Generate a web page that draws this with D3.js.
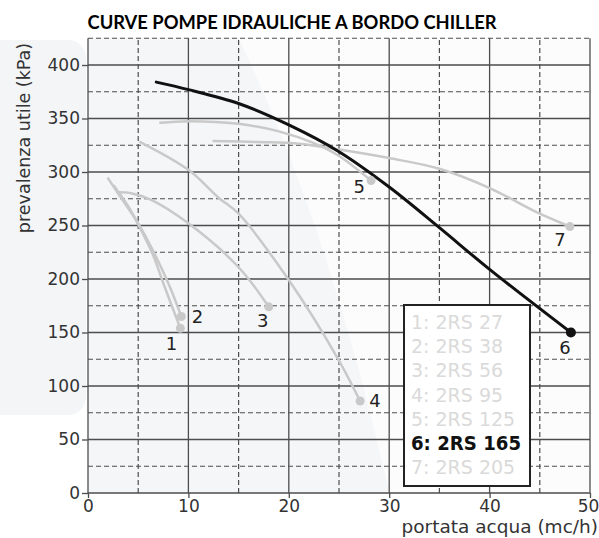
<!DOCTYPE html>
<html>
<head>
<meta charset="utf-8">
<script src="https://cdn.jsdelivr.net/npm/d3@7"></script>
<style>
  body { margin: 0; background: #fff; }
  svg { display: block; }
</style>
</head>
<body>
<svg id="chart" width="599" height="538"></svg>
<script>
// pump curves: flow (mc/h) and head (kPa)
const models = ["2RS 27", "2RS 38", "2RS 56", "2RS 95", "2RS 125", "2RS 165", "2RS 205"]
const flow1 = [2.6, 4, 5, 6.5, 7.5, 9.2]
const head1 = [287, 268, 251, 222, 196, 154]
const flow2 = [2.0, 3.5, 5, 6.5, 8, 9.3]
const head2 = [294, 273, 252, 226, 196, 165]
const flow3 = [3.0, 4.4, 6.3, 10, 15, 18]
const head3 = [281, 280, 274, 252, 211, 174]
const flow4 = [5.2, 10, 13, 15, 20, 24.8, 27.1]
const head4 = [328, 302, 276, 261, 199, 127, 86]
const flow5 = [7.2, 10, 15, 19, 22.5, 25, 28.2]
const head5 = [346, 347.5, 345, 338, 327, 315, 292]
const flow6 = [6.8, 10, 15, 20, 25, 30, 35, 40, 48.1]
const head6 = [384, 377, 364, 344, 319, 286, 248, 209, 150]
const flow7 = [12.5, 17, 21, 25, 30, 35, 40, 45, 48]
const head7 = [329, 328, 326.5, 321, 313, 303, 285, 261, 249]
const activeModel = 5   // 6: 2RS 165 is highlighted

const xTicks = [0, 10, 20, 30, 40, 50]
const xMinor = [5, 15, 25, 35, 45]
const yTicks = [0, 50, 100, 150, 200, 250, 300, 350, 400]
const yMinor = [25, 75, 125, 175, 225, 275, 325, 375, 425]

const flows = [flow1, flow2, flow3, flow4, flow5, flow6, flow7]
const heads = [head1, head2, head3, head4, head5, head6, head7]

// where each curve number sits relative to its end point
const labelOffset = [[-9, 15], [16, 0], [-6, 14], [15, 0], [-12, 6], [-6, 15], [-10, 13]]

const svg = d3.select("#chart")
const x = d3.scaleLinear().domain([0, 50]).range([88, 590])
const y = d3.scaleLinear().domain([0, 425]).range([493, 38.25])

const gray = "#c9c9c9", ink = "#111", grid = "#4d4d4d"
const font = "'DejaVu Sans', Verdana, sans-serif"

// faint watermark behind everything
svg.append("rect").attr("x", -20).attr("y", 40).attr("width", 106).attr("height", 375)
    .attr("rx", 18).attr("fill", "#f3f5f7")
svg.append("rect").attr("x", x(0)).attr("y", y(425))
    .attr("width", x(50) - x(0)).attr("height", y(0) - y(425)).attr("fill", "#fcfcfd")
svg.append("path")
    .attr("d", `M${x(0)},${y(425)} L${x(15)},${y(425)} Q${x(24)},${y(250)} ${x(30)},${y(0)} L${x(0)},${y(0)} Z`)
    .attr("fill", "#f5f6f8")

// grid
const gGrid = svg.append("g")
gGrid.selectAll("line.vmin").data(xMinor).join("line")
    .attr("x1", d => x(d)).attr("x2", d => x(d)).attr("y1", y(0)).attr("y2", y(425))
    .attr("stroke", grid).attr("stroke-width", 1.2).attr("stroke-dasharray", "5,3")
gGrid.selectAll("line.hmin").data(yMinor).join("line")
    .attr("x1", x(0)).attr("x2", x(50)).attr("y1", d => y(d)).attr("y2", d => y(d))
    .attr("stroke", grid).attr("stroke-width", 1.2).attr("stroke-dasharray", "5,3")
gGrid.selectAll("line.vmaj").data(xTicks).join("line")
    .attr("x1", d => x(d)).attr("x2", d => x(d)).attr("y1", y(0)).attr("y2", y(425))
    .attr("stroke", grid).attr("stroke-width", 1.3)
gGrid.selectAll("line.hmaj").data(yTicks).join("line")
    .attr("x1", x(0)).attr("x2", x(50)).attr("y1", d => y(d)).attr("y2", d => y(d))
    .attr("stroke", grid).attr("stroke-width", 1.3)

// axes
const yAxis = d3.axisLeft(y).tickValues(yTicks).tickSize(6).tickPadding(2)
const xAxis = d3.axisBottom(x).tickValues(xTicks).tickSize(5).tickPadding(2)
const gy = svg.append("g").attr("transform", `translate(${x(0)},0)`).call(yAxis)
const gx = svg.append("g").attr("transform", `translate(0,${y(0)})`).call(xAxis)
;[gx, gy].forEach(g => {
    g.select(".domain").remove()
    g.selectAll(".tick line").attr("stroke", grid).attr("stroke-width", 1.3)
    g.selectAll(".tick text").attr("fill", "#333").style("font-family", font).style("font-size", "17px")
})
gx.selectAll(".tick text").filter(d => d === 50).attr("dx", "-2")

// curves
const line = d3.line().x(d => x(d[0])).y(d => y(d[1])).curve(d3.curveCatmullRom.alpha(0.5))
const series = models.map((m, i) => ({
    model: m, i,
    pts: flows[i].map((f, j) => [f, heads[i][j]])
}))
const order = series.filter(s => s.i !== activeModel).concat(series[activeModel])

svg.append("g").selectAll("path").data(order).join("path")
    .attr("d", s => line(s.pts))
    .attr("fill", "none")
    .attr("stroke", s => s.i === activeModel ? ink : gray)
    .attr("stroke-width", s => s.i === activeModel ? 3 : 2.5)
    .attr("stroke-linecap", "round")

svg.append("g").selectAll("circle").data(order).join("circle")
    .attr("cx", s => x(s.pts[s.pts.length - 1][0]))
    .attr("cy", s => y(s.pts[s.pts.length - 1][1]))
    .attr("r", s => s.i === activeModel ? 5 : 4.5)
    .attr("fill", s => s.i === activeModel ? ink : gray)

svg.append("g").selectAll("text").data(series).join("text")
    .attr("x", s => x(s.pts[s.pts.length - 1][0]) + labelOffset[s.i][0])
    .attr("y", s => y(s.pts[s.pts.length - 1][1]) + labelOffset[s.i][1])
    .attr("text-anchor", "middle").attr("dominant-baseline", "central")
    .attr("fill", "#222").style("font-family", font).style("font-size", "18px")
    .text(s => s.i + 1)

// legend box
const lg = svg.append("g")
lg.append("rect").attr("x", 404).attr("y", 305).attr("width", 126).attr("height", 181)
    .attr("fill", "#fff").attr("stroke", "#222").attr("stroke-width", 2)
lg.selectAll("text").data(models).join("text")
    .attr("x", 411)
    .attr("y", (d, i) => 322 + i * 24.2)
    .attr("dominant-baseline", "central")
    .attr("fill", (d, i) => i === activeModel ? ink : "#dadada")
    .style("font-family", font)
    .style("font-size", "19px")
    .style("font-weight", (d, i) => i === activeModel ? "bold" : "normal")
    .attr("textLength", (d, i) => i === activeModel ? 110 : null)
    .attr("lengthAdjust", "spacingAndGlyphs")
    .text((d, i) => `${i + 1}: ${d}`)

// titles
svg.append("text").attr("x", 292).attr("y", 29).attr("text-anchor", "middle")
    .style("font-family", "Lato, 'Open Sans', sans-serif").style("font-weight", "bold").style("font-size", "18px")
    .attr("textLength", 409).attr("lengthAdjust", "spacingAndGlyphs")
    .attr("fill", "#000")
    .text("CURVE POMPE IDRAULICHE A BORDO CHILLER")

svg.append("text").attr("x", 598).attr("y", 533).attr("text-anchor", "end")
    .attr("fill", "#333").style("font-family", font).style("font-size", "18.5px")
    .text("portata acqua (mc/h)")

svg.append("text").attr("transform", "translate(30,138) rotate(-90)").attr("text-anchor", "middle")
    .attr("fill", "#333").style("font-family", font).style("font-size", "17.5px")
    .text("prevalenza utile (kPa)")
</script>
</body>
</html>
